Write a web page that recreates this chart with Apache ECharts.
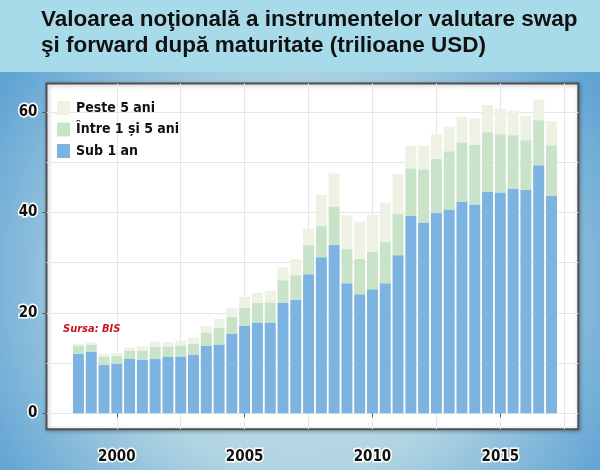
<!DOCTYPE html>
<html>
<head>
<meta charset="utf-8">
<script src="https://cdn.jsdelivr.net/npm/echarts@6/dist/echarts.min.js"></script>
<style>html,body{margin:0;padding:0;}#c{width:600px;height:470px;}</style>
</head>
<body>
<div id="c"></div>
<script>
// Periods: end-June and end-December positions, 1998 H1 .. 2016 H2
const periods = [1998.5,1999.0,1999.5,2000.0,2000.5,2001.0,2001.5,2002.0,2002.5,2003.0,
  2003.5,2004.0,2004.5,2005.0,2005.5,2006.0,2006.5,2007.0,2007.5,2008.0,
  2008.5,2009.0,2009.5,2010.0,2010.5,2011.0,2011.5,2012.0,2012.5,2013.0,
  2013.5,2014.0,2014.5,2015.0,2015.5,2016.0,2016.5,2017.0];
const sub1an = [11.9,12.3,9.6,9.9,10.9,10.7,10.8,11.2,11.3,11.7,
  13.4,13.7,15.9,17.4,18.1,18.1,22.0,22.6,27.7,31.1,
  33.5,25.9,23.7,24.7,25.9,31.5,39.3,38.0,39.9,40.6,
  42.2,41.6,44.1,44.0,44.8,44.5,49.4,43.4];
const intre1si5 = [1.5,1.3,1.6,1.5,1.5,1.8,2.5,2.1,2.2,2.2,
  2.7,3.3,3.3,3.6,3.9,4.0,4.5,4.9,5.8,6.2,
  7.7,6.8,7.1,7.5,8.3,8.2,9.5,10.6,10.8,11.6,
  11.8,11.9,11.9,11.6,10.6,9.9,9.0,10.0];
const peste5 = [0.4,0.5,0.6,0.6,0.7,0.8,1.0,0.9,1.0,1.2,
  1.3,1.8,1.7,2.2,2.0,2.3,2.6,3.2,3.3,6.2,
  6.6,6.7,7.4,7.4,7.8,8.0,4.5,4.7,4.9,4.9,
  5.1,5.2,5.4,5.1,4.9,4.8,4.1,4.8];
const xLabelYears = [2000, 2005, 2010, 2015];
const xGridYears = [2000, 2002.5, 2005, 2007.5, 2010, 2012.5, 2015, 2017.5];
const yLabels = [0, 20, 40, 60];
const yGrid = [0, 10, 20, 30, 40, 50, 60];
const names = ['Sub 1 an', 'Între 1 și 5 ani', 'Peste 5 ani'];

// value first, period second, so the value dimension is the stacked one
const pair = arr => arr.map((v, i) => [v, periods[i]]);
const condensed = "'Liberation Sans Narrow','DejaVu Sans Condensed','DejaVu Sans',sans-serif";
const labelStyle = {
  fontFamily: condensed, fontWeight: 'bold', fontSize: 15, color: '#111',
  textBorderColor: '#fff', textBorderWidth: 3
};

const chart = echarts.init(document.getElementById('c'));
chart.setOption({
  animation: false,
  backgroundColor: new echarts.graphic.RadialGradient(0.5, 0.6, 0.75, [
    {offset: 0, color: '#d2e5e8'},
    {offset: 0.55, color: '#b0d4e2'},
    {offset: 1, color: '#62a4d4'}
  ]),
  graphic: [{
    type: 'rect', left: 0, top: 0, z: 0,
    shape: {width: 600, height: 72},
    style: {fill: '#a8dbea'}
  }],
  title: [{
    text: 'Valoarea noţională a instrumentelor valutare swap\nşi forward după maturitate (trilioane USD)',
    left: 41, top: 7, padding: 0,
    textStyle: {fontFamily: "'Liberation Sans',Arial,sans-serif", fontWeight: 'bold', fontSize: 22.5, lineHeight: 26, color: '#111'}
  }, {
    text: 'Sursa: BIS', left: 63, top: 324, padding: 0,
    textStyle: {fontFamily: condensed, fontWeight: 'bold', fontStyle: 'italic', fontSize: 11, color: '#c8161d'}
  }],
  legend: {
    orient: 'vertical', left: 57, top: 101, padding: 0,
    itemWidth: 13, itemHeight: 14, itemGap: 7.5,
    data: ['Peste 5 ani', 'Între 1 și 5 ani', 'Sub 1 an'],
    textStyle: {fontFamily: condensed, fontWeight: 'bold', fontSize: 14, color: '#111', padding: [0, 0, 0, 1]},
    icon: 'rect'
  },
  grid: {
    left: 46.5, right: 21.7, top: 83.5, bottom: 40.7,
    show: true, backgroundColor: '#fff', borderColor: '#505050', borderWidth: 2,
    shadowBlur: 4, shadowColor: 'rgba(0,0,0,0.3)', shadowOffsetX: 1, shadowOffsetY: 1
  },
  xAxis: [{
    type: 'value', min: 1997.25, max: 2018.05,
    axisLine: {show: false},
    axisTick: {show: false, customValues: xGridYears},
    splitLine: {show: true, lineStyle: {color: '#e6e6e6', width: 1}},
    axisLabel: Object.assign({customValues: xLabelYears, margin: 20, formatter: v => String(v)}, labelStyle)
  }, {
    type: 'value', min: 1997.25, max: 2018.05, position: 'bottom',
    axisLine: {show: false},
    axisTick: {show: true, customValues: xLabelYears, length: 4, lineStyle: {color: '#555'}},
    splitLine: {show: false},
    axisLabel: {show: false}
  }],
  yAxis: [{
    type: 'value', min: -3.2, max: 65.7,
    axisLine: {show: false},
    axisTick: {show: false, customValues: yGrid},
    splitLine: {show: true, lineStyle: {color: '#e6e6e6', width: 1}},
    axisLabel: Object.assign({customValues: yLabels, margin: 9, formatter: v => String(v)}, labelStyle)
  }, {
    type: 'value', min: -3.2, max: 65.7, position: 'left',
    axisLine: {show: false},
    axisTick: {show: true, customValues: yLabels, length: 4, lineStyle: {color: '#555'}},
    splitLine: {show: false},
    axisLabel: {show: false}
  }],
  series: [
    {name: names[0], type: 'bar', stack: 't', barWidth: 11, encode: {x: 1, y: 0}, data: pair(sub1an), itemStyle: {color: '#7cb3e0'}},
    {name: names[1], type: 'bar', stack: 't', barWidth: 11, encode: {x: 1, y: 0}, data: pair(intre1si5), itemStyle: {color: '#c9e3c9'}},
    {name: names[2], type: 'bar', stack: 't', barWidth: 11, encode: {x: 1, y: 0}, data: pair(peste5), itemStyle: {color: '#eef2e5'}}
  ]
});
</script>
</body>
</html>
